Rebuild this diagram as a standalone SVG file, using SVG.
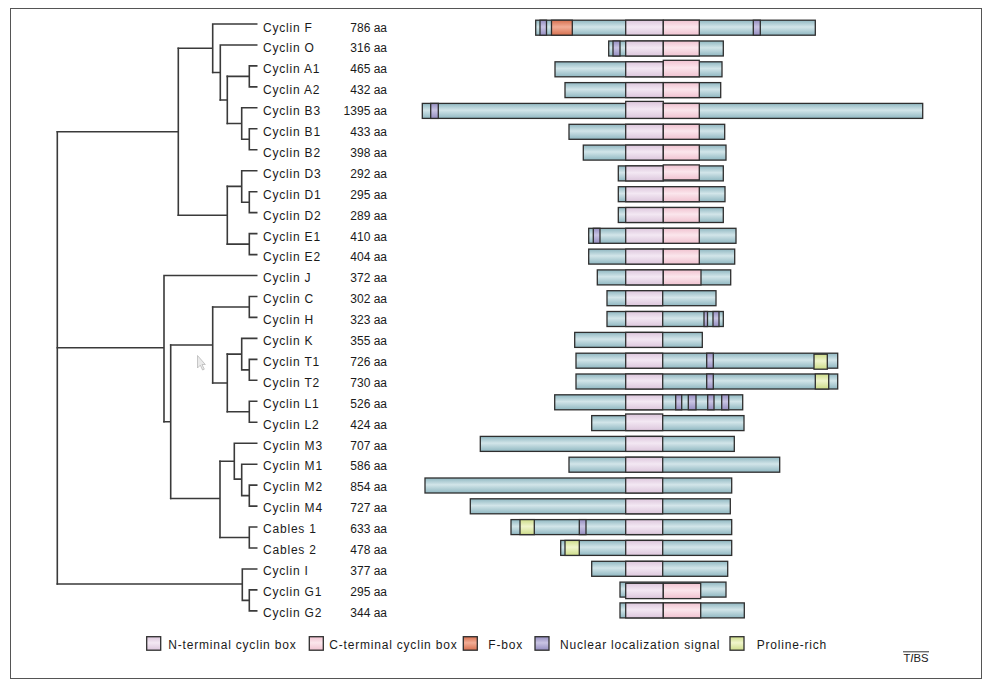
<svg xmlns="http://www.w3.org/2000/svg" width="989" height="686" viewBox="0 0 989 686">
<defs>
<linearGradient id="gT" x1="0" y1="0" x2="0" y2="1"><stop offset="0" stop-color="#8fb7c1"/><stop offset="0.45" stop-color="#d2e5e9"/><stop offset="1" stop-color="#8fb7c1"/></linearGradient>
<linearGradient id="gN" x1="0" y1="0" x2="0" y2="1"><stop offset="0" stop-color="#dcc6dc"/><stop offset="0.45" stop-color="#f3e8f3"/><stop offset="1" stop-color="#dcc6dc"/></linearGradient>
<linearGradient id="gC" x1="0" y1="0" x2="0" y2="1"><stop offset="0" stop-color="#f0c2d0"/><stop offset="0.45" stop-color="#fbe6ec"/><stop offset="1" stop-color="#f0c2d0"/></linearGradient>
<linearGradient id="gF" x1="0" y1="0" x2="0" y2="1"><stop offset="0" stop-color="#d6704f"/><stop offset="0.45" stop-color="#f2ad96"/><stop offset="1" stop-color="#d6704f"/></linearGradient>
<linearGradient id="gP" x1="0" y1="0" x2="0" y2="1"><stop offset="0" stop-color="#948dc0"/><stop offset="0.45" stop-color="#c9c4e3"/><stop offset="1" stop-color="#948dc0"/></linearGradient>
<linearGradient id="gY" x1="0" y1="0" x2="0" y2="1"><stop offset="0" stop-color="#cddc8a"/><stop offset="0.45" stop-color="#f0f5cc"/><stop offset="1" stop-color="#cddc8a"/></linearGradient>
</defs>
<style>
.t{fill:url(#gT);stroke:#2e2e2e;stroke-width:1.3}
.n{fill:url(#gN);stroke:#2e2e2e;stroke-width:1.3}
.c{fill:url(#gC);stroke:#2e2e2e;stroke-width:1.3}
.f{fill:url(#gF);stroke:#2e2e2e;stroke-width:1.3}
.p{fill:url(#gP);stroke:#2e2e2e;stroke-width:1.3}
.y{fill:url(#gY);stroke:#2e2e2e;stroke-width:1.3}
.nm{font-family:"Liberation Sans",Arial,sans-serif;font-size:12px;letter-spacing:0.8px;fill:#1a1a1a}
.aa{font-family:"Liberation Sans",Arial,sans-serif;font-size:12px;fill:#1a1a1a;text-anchor:end}
.lg{font-family:"Liberation Sans",Arial,sans-serif;font-size:12px;letter-spacing:0.8px;fill:#1a1a1a}
.tree path{fill:none;stroke:#3a3a3a;stroke-width:1.6;stroke-linecap:square}
</style>
<rect x="0" y="0" width="989" height="686" fill="#ffffff"/>
<rect x="10.5" y="8.5" width="971" height="670" fill="none" stroke="#555555" stroke-width="1"/>

<g id="connectors" class="tree">
<path d="M57.3,131.7 V584"/>
<path d="M57.3,131.7 H178.3 M178.3,48.2 V215.3"/>
<path d="M178.3,48.2 H212.7 M212.7,24 V72.5 M212.7,24 H256.7"/>
<path d="M212.7,72.5 H220.3 M220.3,45 V100 M220.3,45 H256.7"/>
<path d="M220.3,100 H227.3 M227.3,76.4 V123.5"/>
<path d="M227.3,76.4 H249.3 M249.3,65.9 V86.9 M249.3,65.9 H256.7 M249.3,86.9 H256.7"/>
<path d="M227.3,123.5 H241.7 M241.7,107.8 V139.3 M241.7,107.8 H256.7 M241.7,139.3 H249.3 M249.3,128.8 V149.8 M249.3,128.8 H256.7 M249.3,149.8 H256.7"/>
<path d="M178.3,215.3 H227.3 M227.3,186.4 V244.1"/>
<path d="M227.3,186.4 H241.7 M241.7,170.7 V202.2 M241.7,170.7 H256.7 M241.7,202.2 H249.3 M249.3,191.7 V212.6 M249.3,191.7 H256.7 M249.3,212.6 H256.7"/>
<path d="M227.3,244.1 H249.3 M249.3,233.6 V254.6 M249.3,233.6 H256.7 M249.3,254.6 H256.7"/>
<path d="M57.3,347.7 H164 M164,275.5 V421.7 M164,275.5 H256.7"/>
<path d="M164,421.7 H170.7 M170.7,345 V498.5"/>
<path d="M170.7,345 H212.7 M212.7,307 V383"/>
<path d="M212.7,307 H249.3 M249.3,296.5 V317.4 M249.3,296.5 H256.7 M249.3,317.4 H256.7"/>
<path d="M212.7,383 H227.3 M227.3,354.1 V411.8"/>
<path d="M227.3,354.1 H241.7 M241.7,338.4 V369.9 M241.7,338.4 H256.7 M241.7,369.9 H249.3 M249.3,359.4 V380.3 M249.3,359.4 H256.7 M249.3,380.3 H256.7"/>
<path d="M227.3,411.8 H249.3 M249.3,401.3 V422.2 M249.3,401.3 H256.7 M249.3,422.2 H256.7"/>
<path d="M170.7,498.5 H220 M220,461.2 V537.5"/>
<path d="M220,461.2 H234.3 M234.3,443.2 V479.1 M234.3,443.2 H256.7 M234.3,479.1 H241.7 M241.7,464.2 V495.6 M241.7,464.2 H256.7 M241.7,495.6 H249.3 M249.3,485.1 V506.1 M249.3,485.1 H256.7 M249.3,506.1 H256.7"/>
<path d="M220,537.5 H249.3 M249.3,527 V548 M249.3,527 H256.7 M249.3,548 H256.7"/>
<path d="M57.3,584 H242.3 M242.3,569 V600.4 M242.3,569 H256.7 M242.3,600.4 H249.3 M249.3,589.9 V610.9 M249.3,589.9 H256.7 M249.3,610.9 H256.7"/>
</g>

<g id="cyclin-F"><text class="nm" x="263" y="31.5">Cyclin F</text><text class="aa" x="387" y="31.5">786 aa</text>
<rect class="t" x="535.7" y="20.2" width="279.6" height="15"/><rect class="p" x="540" y="20.2" width="6.5" height="15"/><rect class="f" x="551.5" y="20.2" width="20.8" height="15"/><rect class="n" x="625.7" y="20.2" width="37.6" height="15"/><rect class="c" x="663.3" y="20.2" width="36" height="15"/><rect class="p" x="753.3" y="20.2" width="7" height="15"/></g>

<g id="cyclin-O"><text class="nm" x="263" y="52.4">Cyclin O</text><text class="aa" x="387" y="52.4">316 aa</text>
<rect class="t" x="608.7" y="41" width="114.6" height="15"/><rect class="p" x="613" y="41" width="7" height="15"/><rect class="n" x="625.7" y="41" width="37.6" height="15"/><rect class="c" x="663.3" y="41" width="36" height="15"/></g>

<g id="cyclin-A1"><text class="nm" x="263" y="73.3">Cyclin A1</text><text class="aa" x="387" y="73.3">465 aa</text>
<rect class="t" x="555" y="61.8" width="167" height="15"/><rect class="n" x="625.7" y="61.8" width="37.6" height="15"/><rect class="c" x="663.3" y="60.3" width="36" height="16.5"/></g>

<g id="cyclin-A2"><text class="nm" x="263" y="94.2">Cyclin A2</text><text class="aa" x="387" y="94.2">432 aa</text>
<rect class="t" x="565" y="82.6" width="155.7" height="15"/><rect class="n" x="625.7" y="82.6" width="37.6" height="15"/><rect class="c" x="663.3" y="82.6" width="36" height="15"/></g>

<g id="cyclin-B3"><text class="nm" x="263" y="115.1">Cyclin B3</text><text class="aa" x="387" y="115.1">1395 aa</text>
<rect class="t" x="422.3" y="103.4" width="500.4" height="15"/><rect class="p" x="430.7" y="103.4" width="7.6" height="15"/><rect class="n" x="625.7" y="101.4" width="37.6" height="17"/><rect class="c" x="663.3" y="103.4" width="36" height="15"/></g>

<g id="cyclin-B1"><text class="nm" x="263" y="136">Cyclin B1</text><text class="aa" x="387" y="136">433 aa</text>
<rect class="t" x="569" y="124.3" width="155.7" height="15"/><rect class="n" x="625.7" y="124.3" width="37.6" height="15"/><rect class="c" x="663.3" y="124.3" width="36" height="15"/></g>

<g id="cyclin-B2"><text class="nm" x="263" y="156.9">Cyclin B2</text><text class="aa" x="387" y="156.9">398 aa</text>
<rect class="t" x="583.3" y="145.1" width="142.7" height="15"/><rect class="n" x="625.7" y="145.1" width="37.6" height="15"/><rect class="c" x="663.3" y="145.1" width="36" height="15"/></g>

<g id="cyclin-D3"><text class="nm" x="263" y="177.8">Cyclin D3</text><text class="aa" x="387" y="177.8">292 aa</text>
<rect class="t" x="618.3" y="165.9" width="105" height="15"/><rect class="n" x="625.7" y="165.9" width="37.6" height="15"/><rect class="c" x="663.3" y="164.9" width="36" height="15" stroke-width="1.8"/></g>

<g id="cyclin-D1"><text class="nm" x="263" y="198.7">Cyclin D1</text><text class="aa" x="387" y="198.7">295 aa</text>
<rect class="t" x="618.3" y="186.7" width="106.7" height="15"/><rect class="n" x="625.7" y="186.7" width="37.6" height="15"/><rect class="c" x="663.3" y="186.7" width="36" height="15"/></g>

<g id="cyclin-D2"><text class="nm" x="263" y="219.6">Cyclin D2</text><text class="aa" x="387" y="219.6">289 aa</text>
<rect class="t" x="618.3" y="207.5" width="105" height="15"/><rect class="n" x="625.7" y="207.5" width="37.6" height="15"/><rect class="c" x="663.3" y="207.5" width="36" height="15"/></g>

<g id="cyclin-E1"><text class="nm" x="263" y="240.5">Cyclin E1</text><text class="aa" x="387" y="240.5">410 aa</text>
<rect class="t" x="588.7" y="228.3" width="147.3" height="15"/><rect class="p" x="593.3" y="228.3" width="6.7" height="15"/><rect class="n" x="625.7" y="228.3" width="37.6" height="15"/><rect class="c" x="663.3" y="228.3" width="36" height="15"/></g>

<g id="cyclin-E2"><text class="nm" x="263" y="261.4">Cyclin E2</text><text class="aa" x="387" y="261.4">404 aa</text>
<rect class="t" x="588.7" y="249.1" width="146" height="15"/><rect class="n" x="625.7" y="249.1" width="37.6" height="15"/><rect class="c" x="663.3" y="249.1" width="36" height="15"/></g>

<g id="cyclin-J"><text class="nm" x="263" y="282.3">Cyclin J</text><text class="aa" x="387" y="282.3">372 aa</text>
<rect class="t" x="597.3" y="269.9" width="133.4" height="15"/><rect class="n" x="625.7" y="269.9" width="37.6" height="15"/><rect class="c" x="663.3" y="269.9" width="37.7" height="15"/></g>

<g id="cyclin-C"><text class="nm" x="263" y="303.2">Cyclin C</text><text class="aa" x="387" y="303.2">302 aa</text>
<rect class="t" x="607" y="290.7" width="109" height="15"/><rect class="n" x="625.7" y="290.7" width="37" height="15"/></g>

<g id="cyclin-H"><text class="nm" x="263" y="324.1">Cyclin H</text><text class="aa" x="387" y="324.1">323 aa</text>
<rect class="t" x="607" y="311.5" width="116.3" height="15"/><rect class="n" x="625.7" y="311.5" width="37" height="15"/><rect class="p" x="704" y="311.5" width="3.5" height="15"/><rect class="p" x="713" y="311.5" width="6" height="15"/></g>

<g id="cyclin-K"><text class="nm" x="263" y="345">Cyclin K</text><text class="aa" x="387" y="345">355 aa</text>
<rect class="t" x="574.7" y="332.4" width="127.6" height="15"/><rect class="n" x="625.7" y="332.4" width="37" height="15"/></g>

<g id="cyclin-T1"><text class="nm" x="263" y="365.9">Cyclin T1</text><text class="aa" x="387" y="365.9">726 aa</text>
<rect class="t" x="576" y="353.2" width="261.7" height="15"/><rect class="n" x="625.7" y="353.2" width="37" height="15"/><rect class="p" x="706.7" y="353.2" width="6.6" height="15"/><rect class="y" x="814" y="354.2" width="13.3" height="15"/></g>

<g id="cyclin-T2"><text class="nm" x="263" y="386.8">Cyclin T2</text><text class="aa" x="387" y="386.8">730 aa</text>
<rect class="t" x="576" y="374" width="261.7" height="15"/><rect class="n" x="625.7" y="374" width="37" height="15"/><rect class="p" x="706.7" y="374" width="6.6" height="15"/><rect class="y" x="815.3" y="374" width="13.4" height="15"/></g>

<g id="cyclin-L1"><text class="nm" x="263" y="407.7">Cyclin L1</text><text class="aa" x="387" y="407.7">526 aa</text>
<rect class="t" x="554.7" y="394.8" width="188" height="15"/><rect class="n" x="625.7" y="394.8" width="37" height="15"/><rect class="p" x="675.7" y="394.8" width="6" height="15"/><rect class="p" x="688.3" y="394.8" width="7.7" height="15"/><rect class="p" x="707.7" y="394.8" width="6.3" height="15"/><rect class="p" x="721.7" y="394.8" width="7" height="15"/></g>

<g id="cyclin-L2"><text class="nm" x="263" y="428.6">Cyclin L2</text><text class="aa" x="387" y="428.6">424 aa</text>
<rect class="t" x="591.7" y="415.6" width="152.3" height="15"/><rect class="n" x="625.7" y="414" width="37" height="16.6"/></g>

<g id="cyclin-M3"><text class="nm" x="263" y="449.5">Cyclin M3</text><text class="aa" x="387" y="449.5">707 aa</text>
<rect class="t" x="480.3" y="436.4" width="254" height="15"/><rect class="n" x="625.7" y="436.4" width="37" height="15"/></g>

<g id="cyclin-M1"><text class="nm" x="263" y="470.4">Cyclin M1</text><text class="aa" x="387" y="470.4">586 aa</text>
<rect class="t" x="569" y="457.2" width="210.7" height="15"/><rect class="n" x="625.7" y="457.2" width="37" height="15"/></g>

<g id="cyclin-M2"><text class="nm" x="263" y="491.3">Cyclin M2</text><text class="aa" x="387" y="491.3">854 aa</text>
<rect class="t" x="425" y="478" width="306.7" height="15"/><rect class="n" x="625.7" y="478" width="37" height="15"/></g>

<g id="cyclin-M4"><text class="nm" x="263" y="512.2">Cyclin M4</text><text class="aa" x="387" y="512.2">727 aa</text>
<rect class="t" x="470.3" y="498.8" width="260" height="15"/><rect class="n" x="625.7" y="498.8" width="37" height="15"/></g>

<g id="cables-1"><text class="nm" x="263" y="533.1">Cables 1</text><text class="aa" x="387" y="533.1">633 aa</text>
<rect class="t" x="511" y="519.6" width="220.7" height="15"/><rect class="y" x="520" y="519.6" width="14.3" height="15"/><rect class="p" x="579.3" y="519.6" width="6.7" height="15"/><rect class="n" x="625.7" y="519.6" width="37" height="15"/></g>

<g id="cables-2"><text class="nm" x="263" y="554">Cables 2</text><text class="aa" x="387" y="554">478 aa</text>
<rect class="t" x="560.7" y="540.4" width="171" height="15"/><rect class="y" x="565" y="540.4" width="14.3" height="15"/><rect class="n" x="625.7" y="540.4" width="37" height="15"/></g>

<g id="cyclin-I"><text class="nm" x="263" y="574.9">Cyclin I</text><text class="aa" x="387" y="574.9">377 aa</text>
<rect class="t" x="591.7" y="561.3" width="136" height="15"/><rect class="n" x="625.7" y="561.3" width="37" height="15"/></g>

<g id="cyclin-G1"><text class="nm" x="263" y="595.8">Cyclin G1</text><text class="aa" x="387" y="595.8">295 aa</text>
<rect class="t" x="620" y="582.1" width="106" height="15"/><rect class="n" x="625.7" y="583.3" width="37.6" height="15.3"/><rect class="c" x="663.3" y="583.3" width="37.4" height="15.3"/></g>

<g id="cyclin-G2"><text class="nm" x="263" y="616.7">Cyclin G2</text><text class="aa" x="387" y="616.7">344 aa</text>
<rect class="t" x="620" y="602.9" width="124.3" height="15"/><rect class="n" x="625.7" y="602.9" width="37.6" height="15"/><rect class="c" x="663.3" y="602.9" width="37.4" height="15"/></g>

<g id="legend">
<rect class="n" x="146.7" y="636.7" width="14" height="13.5"/><text class="lg" x="168.3" y="648.5">N-terminal cyclin box</text>
<rect class="c" x="309.3" y="636.7" width="14" height="13.5"/><text class="lg" x="329.3" y="648.5">C-terminal cyclin box</text>
<rect class="f" x="463.3" y="636.7" width="14" height="13.5"/><text class="lg" x="488.3" y="648.5">F-box</text>
<rect class="p" x="535" y="636.7" width="14" height="13.5"/><text class="lg" x="560" y="648.5">Nuclear localization signal</text>
<rect class="y" x="730" y="636.7" width="14" height="13.5"/><text class="lg" x="756.7" y="648.5">Proline-rich</text>
</g>

<g id="tibs">
<line x1="903" y1="651.8" x2="929" y2="651.8" stroke="#333" stroke-width="1"/>
<text x="903.5" y="661.5" font-family="Liberation Sans Narrow,Liberation Sans,Arial,sans-serif" font-size="10" fill="#222" textLength="25" lengthAdjust="spacingAndGlyphs">T<tspan font-style="italic">I</tspan>BS</text>
</g>

<path d="M197.5,355.5 L197.5,368 L200.3,365.2 L202.6,370 L204.3,369.2 L202,364.5 L205.3,364.5 Z" fill="#e6e6e6" stroke="#a8a8a8" stroke-width="0.8" opacity="0.8"/>
</svg>
